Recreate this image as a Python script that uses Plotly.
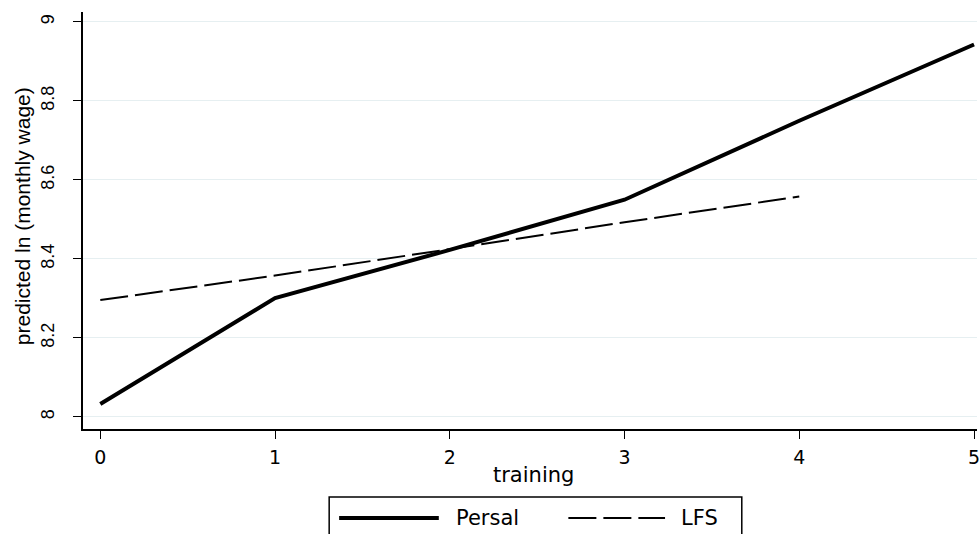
import plotly.graph_objects as go

# Predicted log monthly wage by years of training
training = [0, 1, 2, 3, 4, 5]
persal = [8.033, 8.301, 8.423, 8.550, 8.750, 8.943]

lfs_training = [0, 1, 2, 3, 4]
lfs = [8.296, 8.358, 8.425, 8.493, 8.558]

y_ticks = [8, 8.2, 8.4, 8.6, 8.8, 9]
y_tick_text = ["8", "8.2", "8.4", "8.6", "8.8", "9"]
x_ticks = [0, 1, 2, 3, 4, 5]

series_names = ["Persal", "LFS"]

FONT_V = "Liberation Sans, Arial, sans-serif"   # rotated (vertical) text
FONT_H = "DejaVu Sans, Verdana, sans-serif"     # horizontal text

W, H = 980, 534
M_L, M_R, M_T, M_B = 83, 0, 12, 105
PLOT_W = W - M_L - M_R
PLOT_H = H - M_T - M_B

LFS_DASH = "28px,7px"


def px_x(px):
    """Pixel column -> paper x."""
    return (px - M_L) / PLOT_W


def px_y(py):
    """Pixel row -> paper y."""
    return (H - M_B - py) / PLOT_H


fig = go.Figure()
fig.add_trace(go.Scatter(
    x=training, y=persal, mode="lines", name=series_names[0],
    line=dict(color="black", width=4),
))
fig.add_trace(go.Scatter(
    x=lfs_training, y=lfs, mode="lines", name=series_names[1],
    line=dict(color="black", width=2, dash=LFS_DASH),
))

# Boxed legend below the x-axis title
legend_row = 518
shapes = [
    dict(type="rect", xref="paper", yref="paper",
         x0=px_x(330), x1=px_x(744), y0=px_y(497), y1=px_y(545),
         line=dict(color="black", width=1.5), fillcolor="white", layer="above"),
    dict(type="line", xref="paper", yref="paper",
         x0=px_x(340), x1=px_x(440), y0=px_y(legend_row), y1=px_y(legend_row),
         line=dict(color="black", width=4)),
    dict(type="line", xref="paper", yref="paper",
         x0=px_x(570), x1=px_x(667), y0=px_y(legend_row), y1=px_y(legend_row),
         line=dict(color="black", width=2, dash=LFS_DASH)),
]

annotations = [
    dict(text="training", xref="paper", yref="paper",
         x=px_x(535), y=px_y(475), xanchor="center", yanchor="middle",
         showarrow=False, font=dict(family=FONT_H, size=21)),
    dict(text="predicted ln (monthly wage)", xref="paper", yref="paper",
         x=px_x(23), y=px_y(216), xanchor="center", yanchor="middle",
         textangle=-90, showarrow=False, font=dict(family=FONT_V, size=21)),
    dict(text=series_names[0], xref="paper", yref="paper",
         x=px_x(455), y=px_y(legend_row), xanchor="left", yanchor="middle",
         showarrow=False, font=dict(family=FONT_H, size=21)),
    dict(text=series_names[1], xref="paper", yref="paper",
         x=px_x(681), y=px_y(legend_row), xanchor="left", yanchor="middle",
         showarrow=False, font=dict(family=FONT_H, size=21)),
]

fig.update_layout(
    width=W, height=H,
    margin=dict(l=M_L, r=M_R, t=M_T, b=M_B),
    paper_bgcolor="white", plot_bgcolor="white",
    font=dict(family=FONT_H, color="black", size=20),
    showlegend=False,
    xaxis=dict(
        range=[-0.099, 5.017],
        tickvals=x_ticks,
        ticks="outside", ticklen=8, tickwidth=1.3, tickcolor="black",
        showline=True, linecolor="black", linewidth=1.5,
        showgrid=False, zeroline=False,
        tickfont=dict(family=FONT_H, size=19),
        ticklabelstandoff=2,
        ticklabeloverflow="allow",
    ),
    yaxis=dict(
        range=[7.9696, 9.0253],
        tickvals=y_ticks, ticktext=y_tick_text,
        tickangle=-90,
        ticks="outside", ticklen=8, tickwidth=1.3, tickcolor="black",
        showline=True, linecolor="black", linewidth=1.5,
        showgrid=True, gridcolor="#e6eff1", gridwidth=1,
        zeroline=False,
        tickfont=dict(family=FONT_V, size=18),
        ticklabelstandoff=12,
    ),
    shapes=shapes,
    annotations=annotations,
)

fig.write_html("out.html")
